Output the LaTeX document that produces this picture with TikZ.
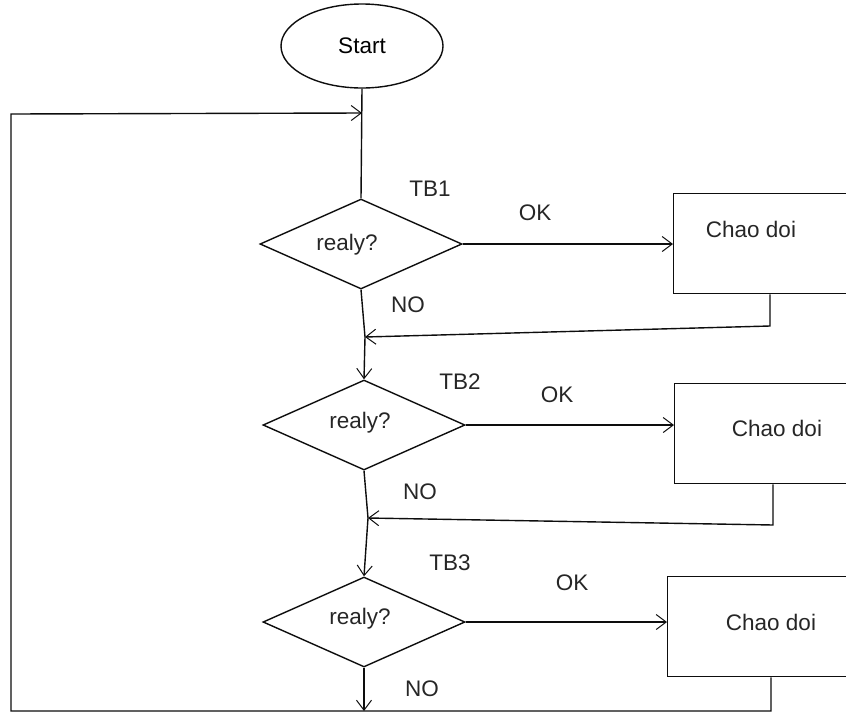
\documentclass[tikz,border=0pt]{standalone}
\usepackage{fontspec}
\setmainfont{Liberation Sans}
\usetikzlibrary{shapes.geometric,arrows.meta}
\begin{document}
\begin{tikzpicture}[x=1pt,y=-1pt,
  line/.style={draw=black!95, line width=1.4pt},
  flow/.style={line, -{Straight Barb[length=10pt,width=15pt,line width=1pt]}},
  txt/.style={font=\fontsize{22.5}{26}\selectfont, inner sep=0pt, text=black!85},
  decision/.style={diamond, line, inner sep=0pt, aspect=2.25,
    minimum width=202pt, minimum height=90pt},
  task/.style={rectangle, line, inner sep=0pt, anchor=north west,
    minimum width=240pt, minimum height=100pt},
  terminal/.style={ellipse, line, inner sep=0pt,
    minimum width=162pt, minimum height=84pt, font=\fontsize{22.5}{26}\selectfont}]
\useasboundingbox (0,0) rectangle (846,713);
\clip (0,0) rectangle (846,713);

% start and the three checks
\node[terminal] (start) at (362,46) {Start};
\node[decision] (d1) at (361,244) {};
\node[decision] (d2) at (364,425) {};
\node[decision] (d3) at (364,622) {};
\node[txt] (q1) at (347,245) {realy?};
\node[txt] (q2) at (360,423) {realy?};
\node[txt] (q3) at (360,619) {realy?};

% action boxes
\node[task] (b1) at (673,193) {};
\node[task] (b2) at (674,383) {};
\node[task] (b3) at (667,576) {};
\node[txt] (c1) at (751,229) {Chao doi};
\node[txt] (c2) at (777,428) {Chao doi};
\node[txt] (c3) at (771,622) {Chao doi};

% labels
\node[txt] (tb1) at (430,189) {TB1};
\node[txt] (tb2) at (460,382) {TB2};
\node[txt] (tb3) at (450,563) {TB3};
\node[txt] (ok1) at (535,213) {OK};
\node[txt] (ok2) at (557,395) {OK};
\node[txt] (ok3) at (572,583) {OK};
\node[txt] (no1) at (408,305) {NO};
\node[txt] (no2) at (420,492) {NO};
\node[txt] (no3) at (422,689) {NO};

% junction points
\coordinate (j0) at (362,113);
\coordinate (m1) at (365,337);
\coordinate (m2) at (368,518);
\coordinate (r1) at (770,326);
\coordinate (r2) at (773,525);
\coordinate (r3) at (771,711);
\coordinate (lb) at (11,711);
\coordinate (lt) at (11,114);

% main column
\draw[line] (start.south) -- (d1.north);
\draw[line] (d1.south) -- (m1);
\draw[flow] (m1) -- (d2.north);
\draw[line] (d2.south) -- (m2);
\draw[flow] (m2) -- (d3.north);
\draw[flow] (d3.south) -- (d3.south |- lb);

% OK branches
\draw[flow] (d1.east) -- (d1.east -| b1.west);
\draw[flow] (d2.east) -- (d2.east -| b2.west);
\draw[flow] (d3.east) -- (d3.east -| b3.west);

% returns from the boxes
\draw[flow] (r1 |- b1.south) -- (r1) -- (m1);
\draw[flow] (r2 |- b2.south) -- (r2) -- (m2);
\draw[flow] (r3 |- b3.south) -- (r3) -- (lb) -- (lt) -- (j0);
\end{tikzpicture}
\end{document}
